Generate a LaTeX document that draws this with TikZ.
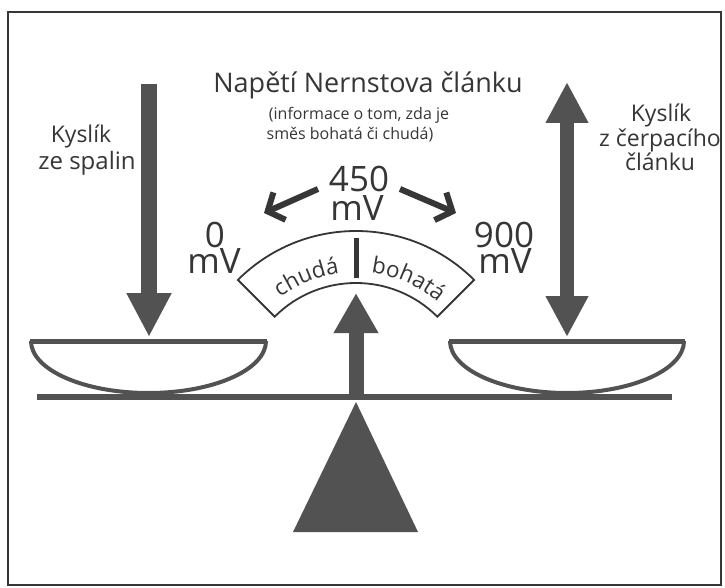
\documentclass[tikz,border=0pt]{standalone}
\usepackage{fontspec}
\setmainfont{Open Sans}
\usetikzlibrary{arrows.meta,decorations.text,calc}
\definecolor{ink}{HTML}{363636}
\definecolor{graytone}{HTML}{525252}
\newcommand\arcfont{\fontsize{22.5}{24}\selectfont\color{ink}}

\tikzset{
  frameline/.style={draw=ink, line width=1.6pt},
  label/.style={text=ink, inner sep=0pt, align=center},
  bigtext/.style={label, font=\fontsize{35}{29}\selectfont},
  midtext/.style={label, font=\fontsize{23}{26}\selectfont},
  headtext/.style={label, font=\fontsize{27}{30}\selectfont},
  smalltext/.style={label, font=\fontsize{16}{20}\selectfont},
  fatarrow/.style={draw=graytone, line width=15pt},
  rim/.style={draw=graytone, line width=5pt},
  bowl/.style={draw=graytone, line width=4pt},
  swing/.style={draw=ink, line width=6pt, -{Straight Barb[length=13pt,width=30pt]}},
}

\begin{document}
\begin{tikzpicture}[x=1pt,y=-1pt]
\useasboundingbox (0,0) rectangle (725,588);
\fill[white] (0,0) rectangle (725,588);

% headline
\node[headtext, anchor=base] (title) at (368,93) {Napětí Nernstova článku};
\node[smalltext, anchor=base] (sub1) at (359,120) {(informace o tom, zda je};
\node[smalltext, anchor=base] (sub2) at (350,140) {směs bohatá či chudá)};

% side labels
\node[midtext, anchor=base] (lefttop) at (81,143) {Kyslík};
\node[midtext, font=\fontsize{24}{26}\selectfont, anchor=base] (leftbot) at (87,170) {ze spalin};
\node[midtext, anchor=base] (righttop) at (661,122) {Kyslík};
\node[midtext, anchor=base] (rightmid) at (660,147) {z čerpacího};
\node[midtext, anchor=base] (rightbot) at (660,171) {článku};

% voltage readings
\node[bigtext, anchor=base] (mid450) at (359,192) {450};
\node[bigtext, anchor=base] (midmv) at (357,220) {mV};
\node[bigtext, anchor=base] (low0) at (215,247) {0};
\node[bigtext, anchor=base] (lowmv) at (214,273) {mV};
\node[bigtext, anchor=base] (high900) at (504,247) {900};
\node[bigtext, anchor=base] (highmv) at (505,273) {mV};

% swing arrows from the middle reading
\coordinate (swingLa) at (318,189);
\coordinate (swingLb) at (264,213);
\coordinate (swingRa) at (400,189);
\coordinate (swingRb) at (456,213);
\draw[swing] (swingLa) -- (swingLb);
\draw[swing] (swingRa) -- (swingRb);

% dial
\coordinate (C) at (356,398);
\draw[draw=ink, line width=1.8pt, fill=white]
  ($(C)+(-135:167)$) arc[start angle=-135, end angle=-45, radius=167]
  -- ($(C)+(-45:115)$) arc[start angle=-45, end angle=-135, radius=115] -- cycle;
\draw[ink, line width=5pt] ($(C)+(-90:120)$) -- ($(C)+(-90:160)$);
\path[decorate, decoration={text along path, text align=center,
    text={|\arcfont|chudá}}]
  ($(C)+(-134:126)$) arc[start angle=-134, end angle=-90.5, radius=126];
\path[decorate, decoration={text along path, text align=center,
    text={|\arcfont|bohatá}}]
  ($(C)+(-88.5:126)$) arc[start angle=-88.5, end angle=-44, radius=126];

% beam and fulcrum
\coordinate (beamL) at (37,397);
\coordinate (beamR) at (672,397);
\draw[draw=graytone, line width=6pt] (beamL) -- (beamR);
\fill[graytone] (356,402) -- (418,532) -- (293,532) -- cycle;

% pans
\draw[rim] (30,341) -- (267,341);
\draw[bowl] (31,341) arc[start angle=180, end angle=0, x radius=117.5, y radius=52];
\draw[rim] (449,341) -- (685,341);
\draw[bowl] (450,341) arc[start angle=180, end angle=0, x radius=117, y radius=52];

% oxygen arrows and pointer
\coordinate (inTop) at (149,84);
\coordinate (inTip) at (149,337);
\coordinate (pumpTop) at (567,82);
\coordinate (pumpTip) at (567,337);
\coordinate (pointerFoot) at (356,397);
\coordinate (pointerTip) at (356,293);
\draw[fatarrow, line width=16pt, -{Triangle[length=44pt,width=42pt]}] (inTop) -- (inTip);
\draw[fatarrow, line width=14pt, {Triangle[length=41pt,width=40pt]}-{Triangle[length=41pt,width=40pt]}] (pumpTop) -- (pumpTip);
\draw[fatarrow, -{Triangle[length=40pt,width=42pt]}] (pointerFoot) -- (pointerTip);

% frame
\draw[frameline] (8,12) rectangle (721,585);
\end{tikzpicture}
\end{document}
